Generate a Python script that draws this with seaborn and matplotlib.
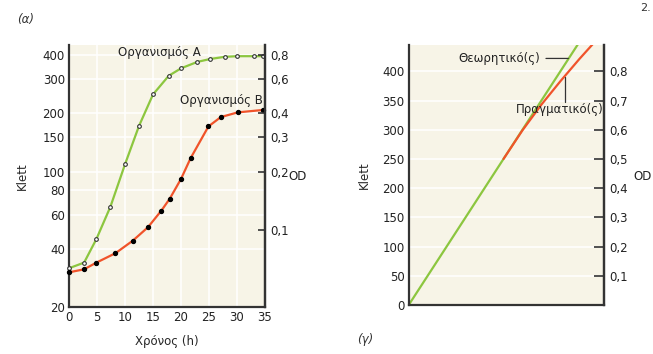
import numpy as np
import pandas as pd
import matplotlib
matplotlib.use("Agg")
import matplotlib.pyplot as plt
import seaborn as sns

# --- data ---
time_a = [0, 2.7, 4.9, 7.4, 10.0, 12.5, 15.0, 17.8, 20.0, 22.9, 25.2, 27.8, 30.0, 33.0, 34.7]
klett_a = [31.7, 33.9, 44.9, 65.9, 109, 172, 250, 312, 341, 368, 381, 391, 394, 394, 394]
time_b = [0, 2.7, 4.9, 8.3, 11.4, 14.1, 16.5, 18.0, 20.0, 21.7, 24.9, 27.1, 30.1, 34.7]
klett_b = [30.2, 31.3, 33.9, 37.9, 44.0, 51.6, 62.9, 72.5, 91.6, 117, 171, 191, 202, 208]

klett_ticks_log = [20, 40, 60, 80, 100, 150, 200, 300, 400]
od_ticks_log = [0.1, 0.2, 0.3, 0.4, 0.6, 0.8]
time_ticks = [0, 5, 10, 15, 20, 25, 30, 35]

cells_theory = [0, 520]
klett_theory = [0, 520]
cells_real = [250, 300, 350, 400, 450, 500]
klett_real = [250, 299, 343, 383, 421, 457]

klett_ticks_lin = [0, 50, 100, 150, 200, 250, 300, 350, 400]
od_ticks_lin = [0.1, 0.2, 0.3, 0.4, 0.5, 0.6, 0.7, 0.8]

GREEN = "#8cc63f"
RED = "#f0532a"
BG = "#f7f4e7"
DARK = "#333333"

sns.set_theme(style="white")
plt.rcParams["font.family"] = ["DejaVu Sans"]
plt.rcParams["font.size"] = 8.5

fig = plt.figure(figsize=(6.53, 3.54), dpi=100)


def comma(v):
    return f"{v:g}".replace(".", ",")


def style_axes(ax):
    ax.set_facecolor(BG)
    for side in ["left", "right", "bottom"]:
        ax.spines[side].set_color(DARK)
        ax.spines[side].set_linewidth(1.6)
    ax.spines["top"].set_visible(False)


# ---------- panel (a) ----------
ax1 = fig.add_axes([69 / 653, 1 - 307 / 354, 196 / 653, 262 / 354])
style_axes(ax1)
ax1.set_yscale("log")
ax1.set_ylim(20, 450)
ax1.set_xlim(0, 35)
ax1.set_yticks(klett_ticks_log)
ax1.set_yticklabels([str(v) for v in klett_ticks_log])
ax1.yaxis.set_minor_locator(matplotlib.ticker.NullLocator())
ax1.set_xticks(time_ticks)
ax1.tick_params(axis="both", length=0, pad=3, labelsize=8.5, colors="#222222")
for v in time_ticks[1:-1]:
    ax1.axvline(v, color="white", lw=1.1, zorder=0)
for v in klett_ticks_log[1:]:
    ax1.axhline(v, color="white", lw=1.1, zorder=0)

df_a = pd.DataFrame({"t": time_a, "k": klett_a})
df_b = pd.DataFrame({"t": time_b, "k": klett_b})
sns.lineplot(data=df_a, x="t", y="k", ax=ax1, color=GREEN, lw=1.6, zorder=2)
sns.lineplot(data=df_b, x="t", y="k", ax=ax1, color=RED, lw=1.6, zorder=2)
ax1.scatter(time_a, klett_a, s=7, facecolor="white", edgecolor="#333333", lw=0.8, zorder=3, clip_on=False)
ax1.scatter(time_b, klett_b, s=8, color="black", zorder=3, clip_on=False)
ax1.set_xlabel("Χρόνος (h)", fontsize=8.5, labelpad=8)
ax1.set_ylabel("Klett", fontsize=8.5, labelpad=10)
ax1.text(0.25, 0.957, "Οργανισμός Α", transform=ax1.transAxes, fontsize=8.5, color="#222222")
ax1.text(0.565, 0.775, "Οργανισμός Β", transform=ax1.transAxes, fontsize=8.5, color="#222222")

ax1r = ax1.twinx()
ax1r.set_yscale("log")
ax1r.set_ylim(20 / 500, 450 / 500)
ax1r.set_yticks(od_ticks_log)
ax1r.set_yticklabels([comma(v) for v in od_ticks_log])
ax1r.yaxis.set_minor_locator(matplotlib.ticker.NullLocator())
ax1r.tick_params(axis="y", direction="in", length=5, width=1.2, color=DARK, pad=4,
                 labelsize=8.5, labelcolor="#222222")
for s in ["left", "top", "bottom"]:
    ax1r.spines[s].set_visible(False)
ax1r.spines["right"].set_color(DARK)
ax1r.spines["right"].set_linewidth(1.6)
ax1r.grid(False)
fig.text(298 / 653, 1 - 177 / 354, "OD", fontsize=8.5, ha="center", va="center", color="#222222")

# ---------- panel (γ) ----------
ax2 = fig.add_axes([408.7 / 653, 1 - 305 / 354, 195.3 / 653, 260 / 354])
style_axes(ax2)
ax2.set_xlim(0, 515)
ax2.set_ylim(0, 445)
ax2.set_xticks([])
ax2.set_yticks(klett_ticks_lin)
ax2.tick_params(axis="y", length=0, pad=3, labelsize=8.5, labelcolor="#222222")
for v in klett_ticks_lin[1:]:
    ax2.axhline(v, color="white", lw=1.1, zorder=0)

df_t = pd.DataFrame({"x": cells_theory, "k": klett_theory})
df_r = pd.DataFrame({"x": cells_real, "k": klett_real})
sns.lineplot(data=df_t, x="x", y="k", ax=ax2, color=GREEN, lw=1.6, zorder=2)
sns.lineplot(data=df_r, x="x", y="k", ax=ax2, color=RED, lw=1.6, zorder=2)
ax2.set_xlabel("Αριθμός κυττάρων ή ξηρό βάρος", fontsize=8.5, labelpad=6)
ax2.set_ylabel("Klett", fontsize=8.5, labelpad=8)

# leader lines
ax2.annotate("Θεωρητικό(ς)", xy=(421, 422), xytext=(346, 422), textcoords="data",
             ha="right", va="center", fontsize=8.5, color="#222222",
             arrowprops=dict(arrowstyle="-", color="#333333", lw=0.9, shrinkA=2, shrinkB=0))
ax2.plot([411, 411], [391, 348], color="#333333", lw=0.9, zorder=4)
ax2.text(515, 335, "Πραγματικό(ς)", ha="right", va="center", fontsize=8.5, color="#222222", zorder=5)

ax2r = ax2.twinx()
ax2r.set_ylim(0, 445 / 500)
ax2r.set_yticks(od_ticks_lin)
ax2r.set_yticklabels([comma(v) for v in od_ticks_lin])
ax2r.tick_params(axis="y", direction="in", length=7, width=1.2, color=DARK, pad=4,
                 labelsize=8.5, labelcolor="#222222")
for s in ["left", "top", "bottom"]:
    ax2r.spines[s].set_visible(False)
ax2r.spines["right"].set_color(DARK)
ax2r.spines["right"].set_linewidth(1.6)
ax2r.grid(False)
fig.text(643 / 653, 1 - 177 / 354, "OD", fontsize=8.5, ha="center", va="center", color="#222222")

# panel letters
fig.text(17 / 653, 1 - 20 / 354, "(α)", fontsize=8.5, style="italic", va="center", color="#333333")
fig.text(357 / 653, 1 - 340 / 354, "(γ)", fontsize=8.5, style="italic", va="center", color="#333333")
fig.text(640 / 653, 1 - 8 / 354, "2.", fontsize=8, va="center", color="#333333")

fig.savefig("out.png", dpi=100)
